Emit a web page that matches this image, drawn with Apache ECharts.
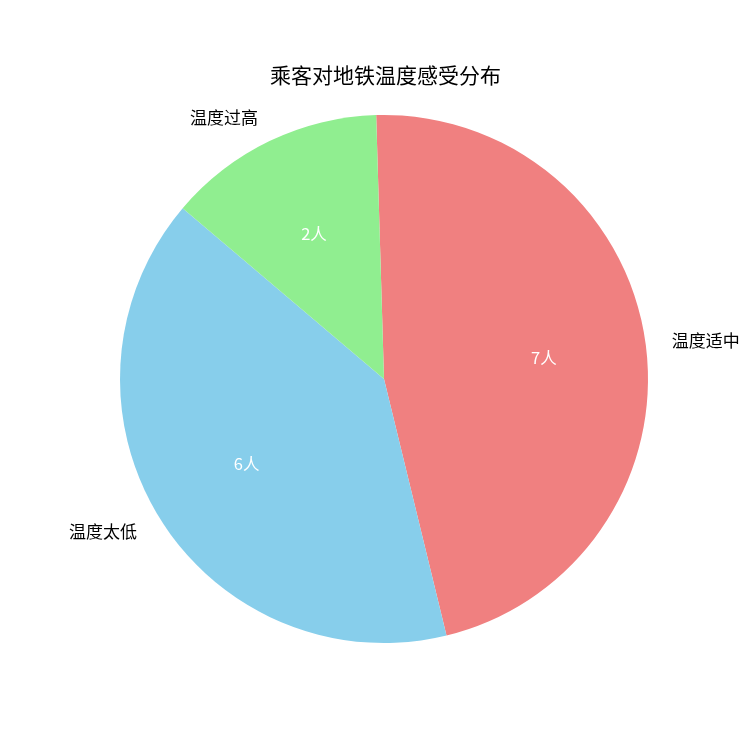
<!DOCTYPE html>
<html>
<head>
<meta charset="utf-8">
<script src="https://cdn.jsdelivr.net/npm/echarts@6/dist/echarts.min.js"></script>
<style>
  html, body { margin: 0; padding: 0; background: #fff; }
  #chart { width: 750px; height: 750px; }
</style>
</head>
<body>
<div id="chart"></div>
<script>
const categories = ['温度适中', '温度太低', '温度过高'];
const counts = [7, 6, 2];
const colors = ['#F08080', '#87CEEB', '#90EE90'];

const font = '"Noto Sans CJK SC", "Noto Sans", sans-serif';
const R = 264;
const pieData = categories.map(function (name, i) {
    return { name: name, value: counts[i], itemStyle: { color: colors[i], borderWidth: 0 } };
});

let chart = echarts.init(document.getElementById('chart'));
let option = {
    animation: false,
    title: {
        text: '乘客对地铁温度感受分布',
        left: 265,
        top: 60,
        textStyle: {
            color: '#000',
            fontSize: 21,
            fontWeight: 'normal',
            fontFamily: font
        }
    },
    series: [{
        // main pie with outside labels
        type: 'pie',
        center: [384, 379],
        radius: [0, R],
        startAngle: 91.7,
        clockwise: true,
        silent: true,
        data: pieData,
        itemStyle: { borderWidth: 0 },
        label: {
            position: 'outside',
            formatter: '{b}',
            color: '#000',
            fontSize: 17,
            fontFamily: font,
            distanceToLabelLine: 0
        },
        labelLine: {
            show: false,
            length: R * 0.1,
            length2: 0
        },
        avoidLabelOverlap: false
    }, {
        // transparent copy used only to place count labels at 0.6 r
        type: 'pie',
        center: [384, 379],
        radius: [0, R * 1.2],
        startAngle: 91.7,
        clockwise: true,
        silent: true,
        data: pieData.map(function (d) {
            return { name: d.name, value: d.value, itemStyle: { color: 'rgba(0,0,0,0)', borderWidth: 0 } };
        }),
        label: {
            position: 'inner',
            formatter: '{c}人',
            color: '#fff',
            fontSize: 16.5,
            fontFamily: font
        },
        labelLine: { show: false }
    }]
};
chart.setOption(option);
</script>
</body>
</html>
